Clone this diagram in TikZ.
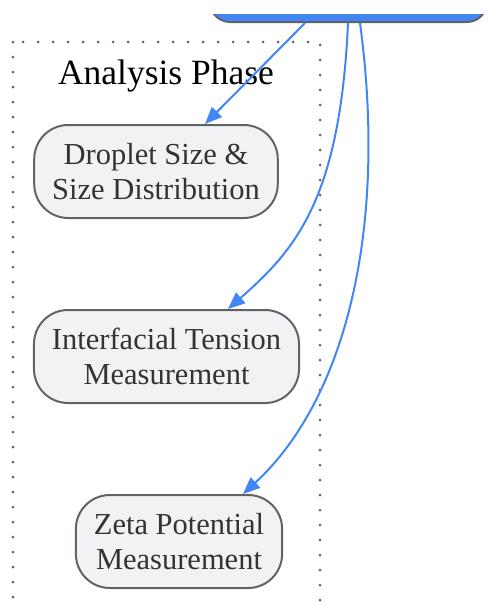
\documentclass[tikz,border=0pt]{standalone}
\usepackage{fontspec}
\setmainfont{Liberation Serif}
\usepackage{xcolor}
\usetikzlibrary{positioning, arrows.meta}

\definecolor{linkblue}{HTML}{4285F4}
\definecolor{boxfill}{HTML}{F1F2F4}
\definecolor{boxline}{HTML}{606368}
\definecolor{boxtext}{HTML}{333333}

\begin{document}
\begin{tikzpicture}[
    x=1pt, y=-1pt,
    step box/.style={draw=boxline, line width=2pt, fill=boxfill, rounded corners=34pt,
        minimum height=93pt, inner xsep=18pt, align=center, text=boxtext,
        font=\fontsize{30.5}{35}\selectfont},
    link/.style={-{Triangle[length=17pt, width=14pt]}, linkblue, line width=2pt},
    title/.style={font=\fontsize{35.5}{40}\selectfont}
]
\useasboundingbox (0,0) rectangle (488,605);

% Top node (cut by the page edge)
\begin{scope}
\clip (0,14) rectangle (488,40);
\node[draw=boxline, line width=2pt, fill=linkblue, rounded corners=20pt,
      minimum width=277pt, minimum height=80pt] (prep) at (348.5,-18) {};
\end{scope}

% Cluster
\draw[boxline, line width=3pt, line cap=round, dash pattern=on 0pt off 15pt] (13,42) rectangle (320,640);
\node[title] (analysis_title) at (166,76) {Analysis Phase};

% Analysis steps
\node[step box] (droplet) at (156,171.5) {Droplet Size \&\\Size Distribution};
\node[step box] (tension) at (166.5,356.5) {Interfacial Tension\\Measurement};
\node[step box] (zeta) at (179,541.5) {Zeta Potential\\Measurement};

\draw[link] (prep.south -| 305,0) -- (droplet.north -| 205,0);
\draw[link] (prep.south -| 348,0) .. controls (340,200) and (295,250) .. (tension.north -| 228,0);
\draw[link] (prep.south -| 360,0) .. controls (388,230) and (345,400) .. (zeta.north -| 243,0);

\end{tikzpicture}
\end{document}
